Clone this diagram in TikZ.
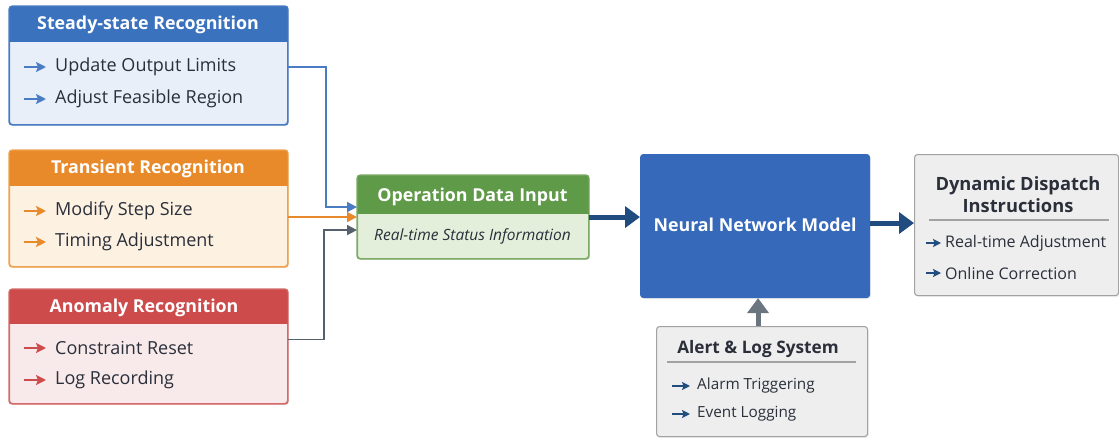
\documentclass[tikz,border=0pt]{standalone}
\usepackage{fontspec}
\setmainfont{Open Sans}
\usetikzlibrary{arrows.meta,shadows,calc}
\definecolor{txt}{HTML}{2A2F3A}
\definecolor{blueH}{HTML}{3B72BE}
\definecolor{blueB}{HTML}{4A7CC4}
\definecolor{blueF}{HTML}{E9EFF8}
\definecolor{orH}{HTML}{E88A2A}
\definecolor{orB}{HTML}{EFA24E}
\definecolor{orF}{HTML}{FDF1E2}
\definecolor{rdH}{HTML}{CD4B4B}
\definecolor{rdB}{HTML}{D46A6A}
\definecolor{rdF}{HTML}{F8EAEA}
\definecolor{gnH}{HTML}{5F9A48}
\definecolor{gnB}{HTML}{7DAA66}
\definecolor{gnF}{HTML}{E3EFDA}
\definecolor{nnF}{HTML}{3669B9}
\definecolor{gyF}{HTML}{EEEEEE}
\definecolor{gyB}{HTML}{A2A2A2}
\definecolor{navy}{HTML}{204C80}
\definecolor{slate}{HTML}{56616E}
\definecolor{grayA}{HTML}{6B7580}
\tikzset{
  boxbase/.style={rounded corners=3pt, line width=1.1pt, anchor=north west,
    inner sep=0pt, drop shadow={opacity=0.12, shadow xshift=1.2pt, shadow yshift=-1.5pt}},
  ttl/.style={font=\bfseries\fontsize{17.8}{20}\selectfont, text=white},
  ttldark/.style={font=\bfseries\fontsize{18.3}{22}\selectfont, text=txt, align=center},
  itm/.style={font=\fontsize{18}{21}\selectfont, text=txt, anchor=west, inner sep=0pt},
  itms/.style={font=\fontsize{16}{19}\selectfont, text=txt, anchor=west, inner sep=0pt},
  bul/.style={line width=2pt, -{Stealth[length=10pt,width=10pt,inset=2pt]}},
  sbul/.style={line width=1.7pt, -{Stealth[length=8pt,width=8pt,inset=1.5pt]}},
  conn/.style={line width=1.6pt, -{Triangle[length=10pt,width=10pt]}},
  bigarrow/.style={line width=5pt, -{Triangle[length=15pt,width=21pt]}},
}
\newcommand{\hdrbox}[9]{%
  % #1 name, #2 x, #3 y, #4 w, #5 h, #6 header height, #7 border, #8 header, #9 body
  \node[boxbase, draw=#7, fill=#9, minimum width=#4pt, minimum height=#5pt] (#1) at (#2,#3) {};
  \begin{scope}
    \clip[rounded corners=3pt] (#1.north west) rectangle (#1.south east);
    \fill[#8] (#1.north west) rectangle ($(#1.north east)+(0,-#6pt)$);
  \end{scope}
  \draw[#7, line width=1.1pt, rounded corners=3pt] (#1.north west) rectangle (#1.south east);
}
\begin{document}
\begin{tikzpicture}[x=1pt,y=-1pt]
\useasboundingbox[fill=white] (0,0) rectangle (1119,439);

% ---- left boxes
\hdrbox{steady}{9}{6}{278}{118}{36}{blueB}{blueH}{blueF}
\node[ttl] (steadyT) at (148,25) {Steady-state Recognition};
\node[itm] (s1) at (55,67) {Update Output Limits};
\node[itm] (s2) at (55,99) {Adjust Feasible Region};
\draw[bul, blueB] (24,67) -- (46,67);
\draw[bul, blueB] (24,99) -- (46,99);

\hdrbox{trans}{9}{150}{278}{116}{36}{orB}{orH}{orF}
\node[ttl] (transT) at (148,169) {Transient Recognition};
\node[itm] (t1) at (55,211) {Modify Step Size};
\node[itm] (t2) at (55,242) {Timing Adjustment};
\draw[bul, orH] (24,211) -- (46,211);
\draw[bul, orH] (24,242) -- (46,242);

\hdrbox{anom}{9}{289}{278}{114}{35}{rdB}{rdH}{rdF}
\node[ttl] (anomT) at (144,308) {Anomaly Recognition};
\node[itm] (a1) at (55,348) {Constraint Reset};
\node[itm] (a2) at (55,380) {Log Recording};
\draw[bul, rdH] (24,348) -- (46,348);
\draw[bul, rdH] (24,380) -- (46,380);

% ---- operation data input
\hdrbox{op}{357}{175}{231}{83}{39}{gnB}{gnH}{gnF}
\node[ttl] (opT) at (472.5,197) {Operation Data Input};
\node[font=\itshape\fontsize{15.5}{18}\selectfont, text=txt] (opS) at (472.5,236) {Real-time Status Information};

% ---- neural network
\node[boxbase, draw=nnF, fill=nnF, minimum width=229pt, minimum height=143pt] (nn) at (640,154) {};
\node[ttl] (nnT) at ([yshift=1pt]nn.center) {Neural Network Model};

% ---- dynamic dispatch
\node[boxbase, draw=gyB, fill=gyF, minimum width=204pt, minimum height=141pt] (dyn) at (914,154) {};
\node[ttldark] (dynT) at (1018,195) {Dynamic Dispatch\\Instructions};
\draw[gyB, line width=1.1pt] (929,220) -- (1109,220);
\node[itms] (d1) at (945,243) {Real-time Adjustment};
\node[itms] (d2) at (945,273) {Online Correction};
\draw[sbul, navy] (926,243) -- (941,243);
\draw[sbul, navy] (926,273) -- (941,273);

% ---- alert & log
\node[boxbase, draw=gyB, fill=gyF, minimum width=211pt, minimum height=110pt] (alert) at (656,326) {};
\node[ttldark, font=\bfseries\fontsize{17.2}{20}\selectfont] (alT) at (758,349) {Alert \& Log System};
\draw[gyB, line width=1.1pt] (667,362) -- (856,362);
\node[itms, font=\fontsize{15.3}{18}\selectfont] (l1) at (697,386) {Alarm Triggering};
\node[itms, font=\fontsize{15.3}{18}\selectfont] (l2) at (697,414) {Event Logging};
\draw[sbul, navy] (672,386) -- (690,386);
\draw[sbul, navy] (672,414) -- (690,414);

% ---- connectors
\draw[conn, blueB] (s1 -| steady.east) -- ++(38,0) |- ([yshift=10pt]op.west);
\draw[conn, orH] (op.west -| trans.east) -- (op.west);
\draw[conn, slate] ($(anom.east)+(0,7pt)$) -- ++(36,0) |- ([yshift=-13pt]op.west);
\draw[bigarrow, navy] (op.east) -- (op.east -| nn.west);
\draw[bigarrow, navy] ([yshift=3pt]nn.east) -- ([yshift=3pt]nn.east -| dyn.west);
\coordinate (alin) at ([xshift=-4pt]alert.north);
\draw[bigarrow, grayA] (alin) -- (alin |- nn.south);
\end{tikzpicture}
\end{document}
